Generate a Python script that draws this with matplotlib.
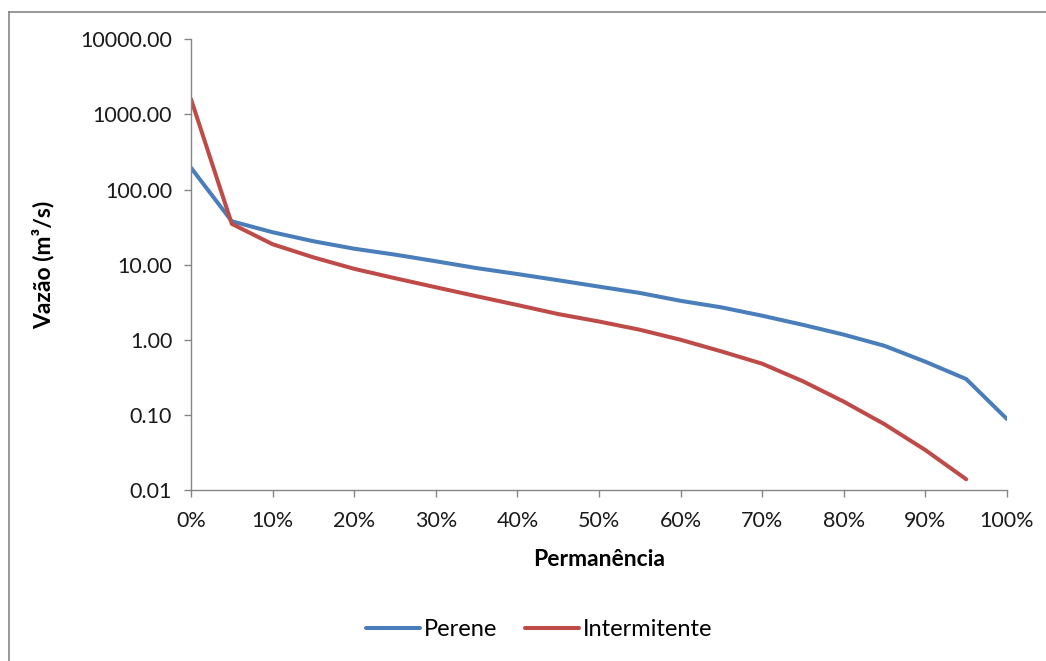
import matplotlib
matplotlib.use("Agg")
import matplotlib.pyplot as plt
from matplotlib.ticker import FixedLocator, FuncFormatter, NullLocator
from matplotlib.lines import Line2D

plt.rcParams['font.family'] = ['Lato', 'DejaVu Sans']

permanencia_perene = [0, 5, 10, 15, 20, 25, 30, 35, 40, 45, 50, 55, 60, 65, 70, 75, 80, 85, 90, 95, 100]
vazao_perene = [195, 37.8, 27, 20.5, 16.3, 13.6, 11.1, 9.0, 7.5, 6.2, 5.1, 4.2, 3.3, 2.7, 2.09, 1.58, 1.17, 0.83, 0.51, 0.30, 0.088]

permanencia_interm = [0, 5, 10, 15, 20, 25, 30, 35, 40, 45, 50, 55, 60, 65, 70, 75, 80, 85, 90, 95]
vazao_interm = [1600, 34.9, 18.7, 12.5, 8.8, 6.6, 5.0, 3.8, 2.9, 2.2, 1.75, 1.36, 1.0, 0.70, 0.48, 0.28, 0.15, 0.075, 0.034, 0.0139]

y_ticks = [0.01, 0.1, 1, 10, 100, 1000, 10000]
x_ticks = [0, 10, 20, 30, 40, 50, 60, 70, 80, 90, 100]

series_names = ["Perene", "Intermitente"]
colors = ["#4A7EBB", "#BE4B48"]

W, H = 1046, 661
fig = plt.figure(figsize=(W / 100, H / 100), dpi=100)
ax = fig.add_axes([191 / W, 1 - 490 / H, (1007 - 191) / W, (490 - 39.3) / H])

ax.plot([p / 100 for p in permanencia_perene], vazao_perene, color=colors[0], lw=2.9,
        solid_joinstyle='round', solid_capstyle='round', label=series_names[0])
ax.plot([p / 100 for p in permanencia_interm], vazao_interm, color=colors[1], lw=2.9,
        solid_joinstyle='round', solid_capstyle='round', label=series_names[1])

ax.set_yscale('log')
ax.set_ylim(0.01, 10000)
ax.set_xlim(0, 1)
ax.yaxis.set_major_locator(FixedLocator(y_ticks))
ax.yaxis.set_minor_locator(NullLocator())
ax.yaxis.set_major_formatter(FuncFormatter(lambda v, p: f"{v:.2f}"))
ax.xaxis.set_major_locator(FixedLocator([t / 100 for t in x_ticks]))
ax.xaxis.set_major_formatter(FuncFormatter(lambda v, p: f"{v*100:.0f}%"))

for s in ['top', 'right']:
    ax.spines[s].set_visible(False)
for s in ['left', 'bottom']:
    ax.spines[s].set_color('#868686')
    ax.spines[s].set_linewidth(1.0)
ax.tick_params(axis='both', colors='#868686', labelcolor='#1a1a1a', labelsize=15.5,
               length=5, width=1.0, direction='out')
ax.tick_params(axis='y', pad=8.5)
ax.tick_params(axis='x', pad=10)

ax.set_ylabel("Vazão (m³/s)", fontsize=16.5, fontweight='bold', color='#000000', labelpad=19)
ax.set_xlabel("Permanência", fontsize=16.5, fontweight='bold', color='#000000', labelpad=13)

# outer chart border (left and top edges visible)
fig.add_artist(Line2D([9 / W, 9 / W], [0, 1 - 12 / H], transform=fig.transFigure, color='#868686', lw=1.2))
fig.add_artist(Line2D([9 / W, 1], [1 - 12 / H, 1 - 12 / H], transform=fig.transFigure, color='#868686', lw=1.2))

handles, labels = ax.get_legend_handles_labels()
fig.legend(handles, labels, loc='center', bbox_to_anchor=(539 / W, 1 - 630 / H), ncol=2,
           frameon=False, fontsize=17, handlelength=2.3, handletextpad=0.15, columnspacing=1.2)

fig.savefig("out.png", dpi=100)
